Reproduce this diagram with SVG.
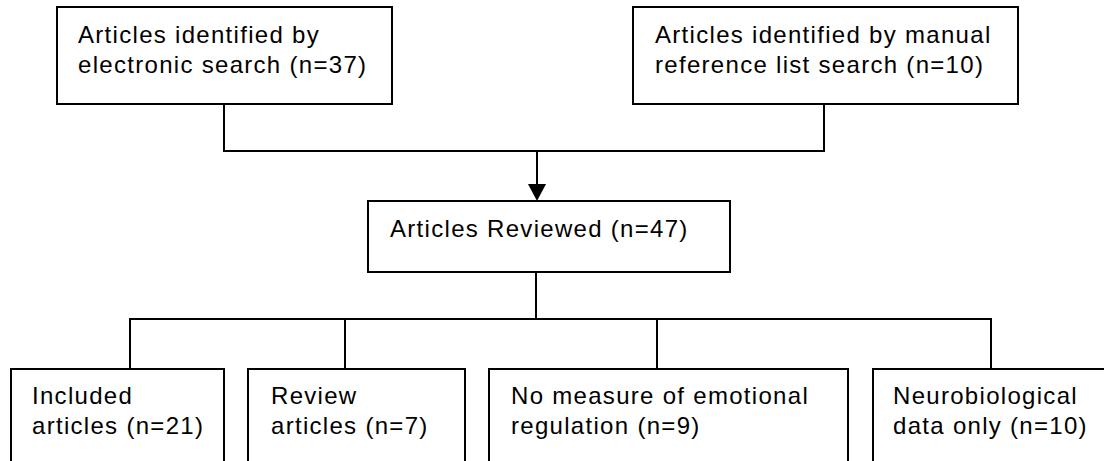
<svg xmlns="http://www.w3.org/2000/svg" width="1104" height="461" viewBox="0 0 1104 461">
<style>
.box{fill:#fff;stroke:#000;stroke-width:2}
.ln{fill:none;stroke:#000;stroke-width:2}
text{font-family:"Liberation Sans",Arial,sans-serif;font-size:24px;letter-spacing:1.3px;fill:#000}
</style>
<rect width="1104" height="461" fill="#fff"/>
<g id="connectors">
<path class="ln" d="M224,104 V151 H824 V104"/>
<path class="ln" d="M537,151 V187"/>
<polygon points="528,184 546,184 537,201" fill="#000"/>
<path class="ln" d="M536,272 V319"/>
<path class="ln" d="M130,369 V319 H991 V369"/>
<path class="ln" d="M345,319 V369"/>
<path class="ln" d="M657,319 V369"/>
</g>
<g id="electronic">
<rect class="box" x="57" y="7" width="335" height="97"/>
<text x="78" y="43">Articles identified by</text>
<text x="78" y="73">electronic search (n=37)</text>
</g>
<g id="manual">
<rect class="box" x="633" y="7" width="385" height="97"/>
<text x="655" y="43">Articles identified by manual</text>
<text x="655" y="73">reference list search (n=10)</text>
</g>
<g id="reviewed">
<rect class="box" x="368" y="201" width="362" height="71"/>
<text x="390" y="237">Articles Reviewed (n=47)</text>
</g>
<g id="included">
<rect class="box" x="11" y="369" width="213" height="120"/>
<text x="32" y="404">Included</text>
<text x="32" y="434">articles (n=21)</text>
</g>
<g id="review">
<rect class="box" x="248" y="369" width="217" height="120"/>
<text x="271" y="404">Review</text>
<text x="271" y="434">articles (n=7)</text>
</g>
<g id="nomeasure">
<rect class="box" x="489" y="369" width="359" height="120"/>
<text x="511" y="404">No measure of emotional</text>
<text x="511" y="434">regulation (n=9)</text>
</g>
<g id="neuro">
<rect class="box" x="873" y="369" width="260" height="120"/>
<text x="893" y="404">Neurobiological</text>
<text x="893" y="434">data only (n=10)</text>
</g>
</svg>
